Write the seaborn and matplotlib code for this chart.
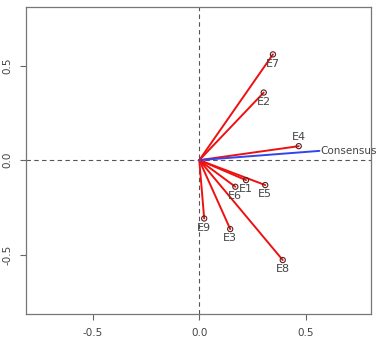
import numpy as np
import pandas as pd
import matplotlib
matplotlib.use("Agg")
import matplotlib.pyplot as plt
import seaborn as sns

# expert loadings
experts = ["E1", "E2", "E3", "E4", "E5", "E6", "E7", "E8", "E9"]
dim1 = [0.219, 0.302, 0.145, 0.466, 0.309, 0.169, 0.345, 0.391, 0.023]
dim2 = [-0.106, 0.358, -0.365, 0.074, -0.132, -0.141, 0.560, -0.529, -0.309]
consensus = (0.563, 0.049)
label_pos = {"E4": "above"}

df = pd.DataFrame({"expert": experts, "dim1": dim1, "dim2": dim2})

sns.set_style("white")
fig = plt.figure(figsize=(3.76, 3.41), dpi=100)
ax = fig.add_axes([0.069, 0.079, 0.918, 0.900])

txt = "#444444"
ax.axhline(0, color="#555555", lw=0.8, ls=(0, (4, 3)), zorder=1)
ax.axvline(0, color="#555555", lw=0.8, ls=(0, (4, 3)), zorder=1)

for _, r in df.iterrows():
    ax.plot([0, r.dim1], [0, r.dim2], color="#ee1111", lw=1.4, zorder=2)
sns.scatterplot(data=df, x="dim1", y="dim2", ax=ax, marker="o", s=14,
                facecolor="none", edgecolor="#552222", linewidth=0.8, zorder=3)

for _, r in df.iterrows():
    if label_pos.get(r.expert) == "above":
        ax.annotate(r.expert, (r.dim1, r.dim2), xytext=(0, 3), textcoords="offset points",
                    ha="center", va="bottom", fontsize=8, color=txt)
    else:
        ax.annotate(r.expert, (r.dim1, r.dim2), xytext=(0, -3), textcoords="offset points",
                    ha="center", va="top", fontsize=8, color=txt)

ax.plot([0, consensus[0]], [0, consensus[1]], color="#3344ee", lw=1.4, zorder=2)
ax.annotate("Consensus", consensus, xytext=(1, 0), textcoords="offset points",
            ha="left", va="center", fontsize=7.5, color=txt)

ax.set_xlim(-0.812, 0.805)
ax.set_ylim(-0.815, 0.81)
ax.set_xticks([-0.5, 0.0, 0.5])
ax.set_yticks([-0.5, 0.0, 0.5])
ax.set_xticklabels(["-0.5", "0.0", "0.5"])
ax.set_yticklabels(["-0.5", "0.0", "0.5"], rotation=90, va="center")
ax.tick_params(axis="both", bottom=True, left=True, length=4, width=0.8,
               color="#666666", labelsize=7.5, labelcolor=txt, pad=6, direction="out")
ax.set_xlabel("")
ax.set_ylabel("")
for s in ax.spines.values():
    s.set_color("#777777")
    s.set_linewidth(0.9)

fig.savefig("out.png", dpi=100)
